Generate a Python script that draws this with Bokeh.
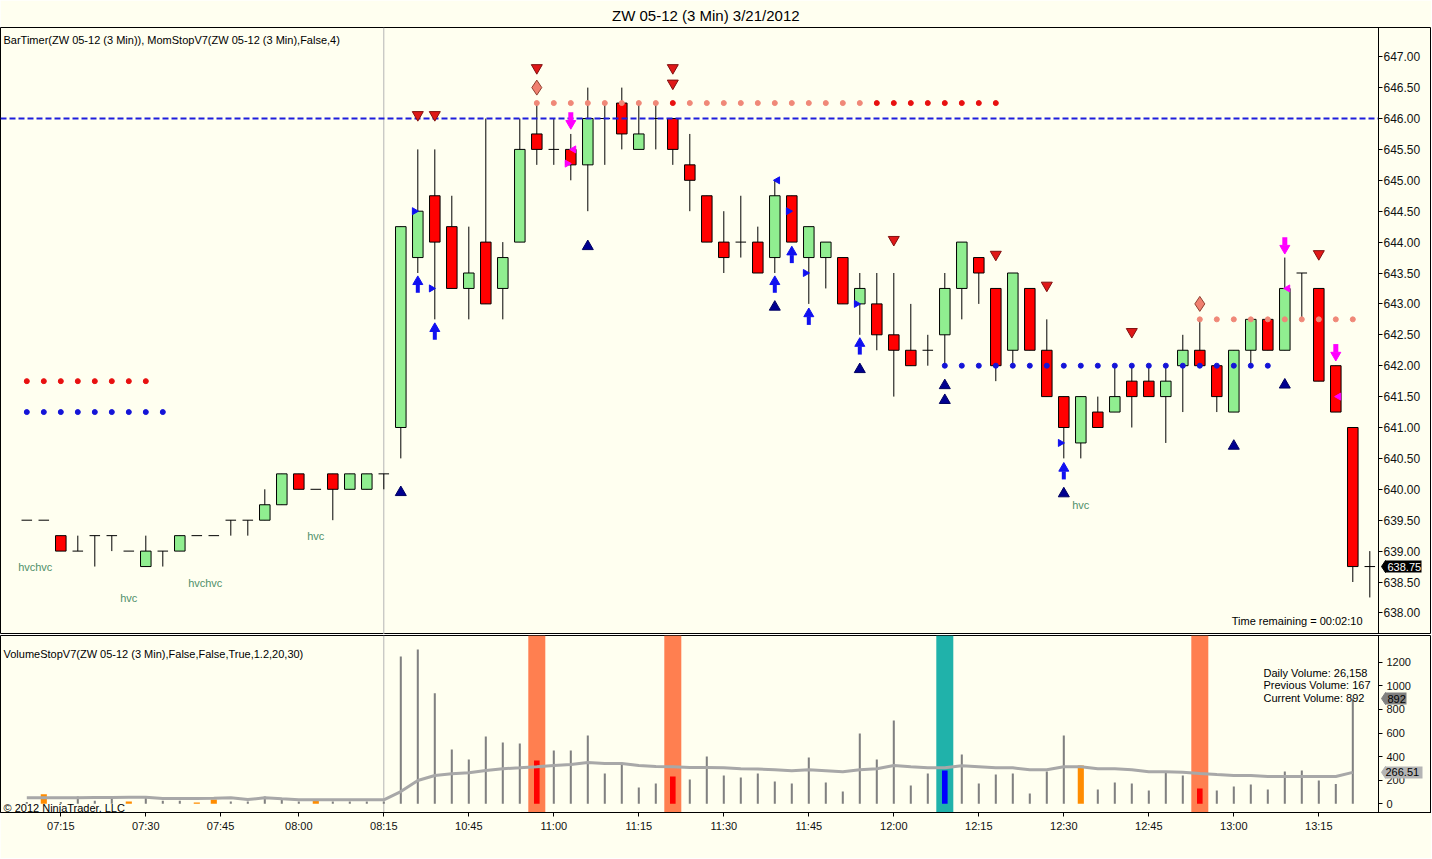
import numpy as np
from bokeh.plotting import figure
from bokeh.models import (Range1d, FixedTicker, PrintfTickFormatter, Label, BoxAnnotation,
                          Span, LinearAxis, BasicTickFormatter)
from bokeh.layouts import column
from bokeh.embed import file_html
from bokeh.resources import INLINE
from bokeh.core.properties import value

# ---------------- data ----------------
TITLE = "ZW 05-12 (3 Min)  3/21/2012"
PRICE_LEGEND = "BarTimer(ZW 05-12 (3 Min)), MomStopV7(ZW 05-12 (3 Min),False,4)"
VOL_LEGEND = "VolumeStopV7(ZW 05-12 (3 Min),False,False,True,1.2,20,30)"
COPYRIGHT = "\u00a9 2012 NinjaTrader, LLC"
TIME_REMAINING = "Time remaining = 00:02:10"
DAILY_VOLUME = 26158

opens = [639.5, 639.5, 639.25, 639.0, 639.25, 639.25, 639.0, 638.75, 639.0, 639.0,
         639.25, 639.25, 639.5, 639.5, 639.5, 639.75, 640.25, 640.0, 640.25, 640.0,
         640.0, 640.25, 641.0, 643.75, 644.75, 644.25, 643.25, 644.0, 643.25, 644.0,
         645.75, 645.5, 645.5, 645.25, 646.0, 646.25, 645.5, 646.0, 646.0, 645.25,
         644.75, 644.0, 644.0, 644.0, 643.75, 644.75, 643.75, 643.75, 643.75, 643.0,
         643.0, 642.5, 642.25, 642.25, 642.5, 643.25, 643.75, 643.25, 642.25, 643.25,
         642.25, 641.5, 640.75, 641.25, 641.25, 641.75, 641.75, 641.5, 642.0, 642.25,
         642.0, 641.25, 642.25, 642.75, 642.25, 643.5, 643.25, 642.0, 641.0, 638.75]
highs = [639.5, 639.5, 639.25, 639.25, 639.25, 639.25, 639.0, 639.25, 639.0, 639.25,
         639.25, 639.25, 639.5, 639.5, 640.0, 640.25, 640.25, 640.0, 640.25, 640.25,
         640.25, 640.25, 644.25, 645.5, 645.5, 644.75, 644.25, 646.0, 644.0, 646.0,
         646.25, 646.0, 645.75, 646.5, 646.25, 646.5, 646.25, 646.25, 646.0, 645.75,
         644.75, 644.5, 644.75, 644.25, 645.0, 644.75, 644.25, 644.0, 643.75, 643.5,
         643.5, 643.5, 643.0, 642.5, 643.5, 644.0, 643.75, 643.25, 643.5, 643.25,
         642.75, 641.5, 641.5, 641.5, 642.0, 642.0, 642.0, 642.0, 642.5, 642.75,
         642.0, 642.25, 642.75, 642.75, 643.75, 643.5, 643.25, 642.0, 641.0, 639.0]
lows = [639.5, 639.5, 639.0, 639.0, 638.75, 639.0, 639.0, 638.75, 638.75, 639.0,
        639.25, 639.25, 639.25, 639.25, 639.5, 639.75, 640.0, 640.0, 639.5, 640.0,
        640.0, 640.0, 640.5, 643.5, 642.75, 643.25, 642.75, 643.0, 642.75, 644.0,
        645.25, 645.25, 645.0, 644.5, 645.25, 645.5, 645.5, 645.5, 645.25, 644.5,
        644.0, 643.5, 643.75, 643.5, 643.5, 644.0, 643.0, 643.25, 643.0, 642.5,
        642.25, 641.5, 642.0, 642.0, 642.0, 642.75, 643.0, 641.75, 642.0, 642.25,
        641.5, 640.5, 640.5, 641.0, 641.25, 641.0, 641.5, 640.75, 641.25, 642.0,
        641.25, 641.25, 642.0, 642.25, 642.25, 642.75, 641.75, 641.25, 638.5, 638.25]
closes = [639.5, 639.5, 639.0, 639.0, 639.25, 639.25, 639.0, 639.0, 639.0, 639.25,
          639.25, 639.25, 639.5, 639.5, 639.75, 640.25, 640.0, 640.0, 640.0, 640.25,
          640.25, 640.25, 644.25, 644.5, 644.0, 643.25, 643.5, 643.0, 643.75, 645.5,
          645.5, 645.5, 645.25, 646.0, 646.0, 645.75, 645.75, 646.0, 645.5, 645.0,
          644.0, 643.75, 644.0, 643.5, 644.75, 644.0, 644.25, 644.0, 643.0, 643.25,
          642.5, 642.25, 642.0, 642.25, 643.25, 644.0, 643.5, 642.0, 643.5, 642.25,
          641.5, 641.0, 641.5, 641.0, 641.5, 641.5, 641.5, 641.75, 642.25, 642.0,
          641.5, 642.25, 642.75, 642.25, 643.25, 643.5, 641.75, 641.25, 638.75, 638.75]

volumes = [15, 80, 15, 62, 25, 62, 20, 62, 25, 25,
           10, 37, 20, 20, 62, 40, 20, 31, 20, 20,
           20, 20, 1248, 1308, 937, 460, 375, 570, 520, 511,
           367, 452, 452, 579, 257, 336, 138, 172, 231, 206,
           401, 240, 223, 257, 189, 172, 392, 181, 104, 596,
           375, 706, 155, 257, 282, 418, 172, 248, 257, 87,
           274, 579, 325, 121, 181, 172, 113, 274, 240, 130,
           113, 147, 164, 121, 274, 282, 197, 167, 892]
volume_avg = [51, 51, 51, 51, 53, 53, 56, 56, 45, 45,
              45, 47, 51, 36, 51, 42, 34, 34, 34, 34,
              34, 34, 104, 197, 240, 254, 263, 282, 297, 305,
              314, 325, 333, 350, 342, 342, 325, 316, 314, 308,
              308, 305, 297, 294, 288, 280, 288, 280, 271, 288,
              297, 325, 314, 305, 305, 322, 314, 305, 305, 288,
              288, 314, 314, 297, 297, 288, 271, 271, 268, 257,
              248, 240, 240, 231, 231, 231, 231, 231, 266.51]
vol_red_idx = [30, 38, 69]
vol_blue_idx = [54]
vol_orange_idx = [1, 6, 10, 11, 17, 62]
band_coral_idx = [30, 38, 69]
band_teal_idx = [54]

time_tick_pos = [2, 7, 11.4, 16, 21, 26, 31, 36, 41, 46, 51, 56, 61, 66, 71, 76]
time_tick_labels = ["07:15", "07:30", "07:45", "08:00", "08:15", "10:45", "11:00", "11:15",
                    "11:30", "11:45", "12:00", "12:15", "12:30", "12:45", "13:00", "13:15"]
price_ticks = [638.0, 638.5, 639.0, 639.5, 640.0, 640.5, 641.0, 641.5, 642.0, 642.5,
               643.0, 643.5, 644.0, 644.5, 645.0, 645.5, 646.0, 646.5, 647.0]
vol_ticks = [0, 200, 400, 600, 800, 1000, 1200]
session_break_idx = 21
resistance_level = 646.0

# MomStop dots
red_dot_idx = [0, 1, 2, 3, 4, 5, 6, 7]
red_dot_lvl = [641.75] * 8
blue_dot_idx = [0, 1, 2, 3, 4, 5, 6, 7, 8]
blue_dot_lvl = [641.25] * 9
hi_dot_idx = [30, 31, 32, 33, 34, 35, 36, 37, 38, 39, 40, 41, 42, 43, 44, 45, 46, 47, 48, 49,
              50, 51, 52, 53, 54, 55, 56, 57]
hi_dot_lvl = [646.25] * 28
hi_dot_red_idx = [38, 50, 51, 52, 53, 54, 55, 56, 57]
lo_dot_idx = [54, 55, 56, 57, 58, 59, 60, 61, 62, 63, 64, 65, 66, 67, 68, 69, 70, 71, 72, 73]
lo_dot_lvl = [642.0] * 20
hi2_dot_idx = [69, 70, 71, 72, 73, 74, 75, 76, 77, 78]
hi2_dot_lvl = [642.75] * 10

# signal markers (index, price)
sell_tri_idx = [23, 24, 30, 38, 38, 51, 57, 60, 65, 76]
sell_tri_px = [646.06, 646.06, 646.82, 646.82, 646.57, 644.04, 643.80, 643.30, 642.55, 643.81]
diamond_idx = [30, 69]
diamond_px = [646.5, 643.0]
buy_tri_idx = [22, 33, 44, 49, 54, 54, 61, 71, 74]
buy_tri_px = [639.95, 643.93, 642.95, 641.94, 641.68, 641.44, 639.93, 640.70, 641.69]
down_arrow_idx = [32, 74, 77]
down_arrow_px = [645.98, 643.96, 642.23]
up_arrow_idx = [23, 24, 44, 45, 46, 49, 61]
up_arrow_px = [643.30, 642.54, 643.30, 643.78, 642.78, 642.30, 640.28]
blue_right_idx = [23, 24, 45, 46, 49, 61]
blue_right_px = [644.5, 643.25, 644.5, 643.5, 643.0, 640.75]
blue_left_idx = [44]
blue_left_px = [645.0]
mag_right_idx = [32]
mag_right_px = [645.27]
mag_left_idx = [32, 74, 77]
mag_left_px = [645.5, 643.25, 641.5]
hvc_idx = [0, 1, 6, 10, 11, 17, 62]

# ---------------- styling ----------------
BG = "#FFFFF0"
FONT = "Liberation Sans"
GREEN = "#90EE90"
RED = "#FF0000"
FRAME_W = 1431
BAR_PX = 17.0
x_range = Range1d(-1.547, 82.629)
AXIS_X = 79.512          # bar-index position of the price/volume scale line
BOX_GAP = 7              # px between scale line and value box


def style_axis(ax, size="11px", standoff=3):
    ax.major_label_text_font = FONT
    ax.major_label_text_font_size = size
    ax.major_label_text_color = "#111111"
    ax.axis_line_color = "black"
    ax.major_tick_line_color = "black"
    ax.major_tick_out = 4
    ax.major_tick_in = 0
    ax.minor_tick_line_color = None
    ax.major_label_standoff = standoff


def scale_axis(fig, ticks, fmt, size, standoff):
    ax = LinearAxis(fixed_location=AXIS_X, ticker=FixedTicker(ticks=ticks), formatter=fmt)
    style_axis(ax, size=size, standoff=standoff)
    fig.add_layout(ax, "right")


def value_box(fig, val, fmt, fill, text_color, length, standoff):
    # pointer notch on the left of the box
    fig.scatter([AXIS_X + BOX_GAP / BAR_PX], [val], marker="diamond", size=12,
                fill_color=fill, line_color=fill)
    ax = LinearAxis(fixed_location=AXIS_X, ticker=FixedTicker(ticks=[val]), formatter=fmt)
    ax.axis_line_color = None
    ax.minor_tick_line_color = None
    ax.major_tick_in = -BOX_GAP
    ax.major_tick_out = length
    ax.major_tick_line_width = 12
    ax.major_tick_line_color = fill
    ax.major_label_standoff = standoff
    ax.major_label_text_font = FONT
    ax.major_label_text_font_size = "11px"
    ax.major_label_text_color = text_color
    fig.add_layout(ax, "right")


# ---------------- price panel ----------------
p = figure(frame_width=FRAME_W, frame_height=607, x_range=x_range,
           y_range=Range1d(637.6505, 647.4725), output_backend="svg",
           toolbar_location=None, y_axis_location=None, x_axis_location=None,
           min_border_left=0, min_border_right=0, min_border_top=27, min_border_bottom=0,
           background_fill_color=BG, border_fill_color=BG, outline_line_color="black",
           title=TITLE)
p.title.align = "left"
p.title.offset = 611.5
p.title.standoff = 8
p.title.text_font = FONT
p.title.text_font_size = "15px"
p.title.text_font_style = "normal"
p.title.text_color = "black"
p.grid.visible = False
scale_axis(p, price_ticks, PrintfTickFormatter(format="%.2f"), "12px", 1)

p.add_layout(Span(location=session_break_idx, dimension="height", line_color="#B4B4B4",
                  line_width=1, level="underlay"))

idx = np.arange(len(opens))
o = np.array(opens)
h = np.array(highs)
lo = np.array(lows)
c = np.array(closes)
up = c > o
dn = c < o
flat = c == o
BW = 0.62

p.segment(x0=idx, y0=h, x1=idx, y1=lo, line_color="black", line_width=1)
p.vbar(x=idx[up], bottom=o[up], top=c[up], width=BW, fill_color=GREEN, line_color="black")
p.vbar(x=idx[dn], bottom=c[dn], top=o[dn], width=BW, fill_color=RED, line_color="black")
p.segment(x0=idx[flat] - BW / 2, y0=o[flat], x1=idx[flat] + BW / 2, y1=o[flat],
          line_color="black", line_width=1)

p.segment(x0=[x_range.start], y0=[resistance_level], x1=[AXIS_X], y1=[resistance_level],
          line_color="#1E1EDC", line_width=2, line_dash="6 3")

# dots
p.scatter(red_dot_idx, red_dot_lvl, size=5, color="#E81010")
p.scatter(blue_dot_idx, blue_dot_lvl, size=5, color="#1414D8")
hi_cols = ["#E81010" if i in hi_dot_red_idx else "#F08878" for i in hi_dot_idx]
p.scatter(hi_dot_idx, hi_dot_lvl, size=5, color=hi_cols)
p.scatter(lo_dot_idx, lo_dot_lvl, size=5, color="#1414D8")
p.scatter(hi2_dot_idx, hi2_dot_lvl, size=5, color="#F08878")

# markers
p.scatter(sell_tri_idx, sell_tri_px, marker="inverted_triangle", size=11,
          fill_color="#E01818", line_color="#801010")
p.scatter(diamond_idx, diamond_px, marker="diamond", size=15,
          fill_color="#F08070", line_color="#904030")
p.scatter(buy_tri_idx, buy_tri_px, marker="triangle", size=11,
          fill_color="#000090", line_color="#000060")

da_x = np.array(down_arrow_idx)
da_y = np.array(down_arrow_px)
p.segment(x0=da_x, y0=da_y + 0.12, x1=da_x, y1=da_y - 0.01, line_color="#FF00FF", line_width=5)
p.scatter(da_x, da_y - 0.06, marker="inverted_triangle", size=10,
          fill_color="#FF00FF", line_color="#FF00FF")
ua_x = np.array(up_arrow_idx)
ua_y = np.array(up_arrow_px)
p.segment(x0=ua_x, y0=ua_y - 0.12, x1=ua_x, y1=ua_y + 0.01, line_color="#1010F0", line_width=4)
p.scatter(ua_x, ua_y + 0.06, marker="triangle", size=10,
          fill_color="#1010F0", line_color="#1010F0")

p.scatter(np.array(blue_right_idx) - 0.2, blue_right_px, marker="triangle", size=7,
          angle=-np.pi / 2, fill_color="#1010F0", line_color="#1010F0")
p.scatter(np.array(blue_left_idx) + 0.16, blue_left_px, marker="triangle", size=7,
          angle=np.pi / 2, fill_color="#1010F0", line_color="#1010F0")
p.scatter(np.array(mag_right_idx) - 0.21, mag_right_px, marker="triangle", size=7,
          angle=-np.pi / 2, fill_color="#FF00FF", line_color="#FF00FF")
p.scatter(np.array(mag_left_idx) + 0.17, mag_left_px, marker="triangle", size=7,
          angle=np.pi / 2, fill_color="#FF00FF", line_color="#FF00FF")

p.text(x=hvc_idx, y=[lows[i] for i in hvc_idx], text=["hvc"] * len(hvc_idx),
       text_font=value(FONT), text_font_size="11px", text_color="#4F8F6A",
       text_align="center", text_baseline="middle", y_offset=47)

# texts (screen coords relative to frame bottom-left)
p.add_layout(Label(x=3, y=594.7, x_units="screen", y_units="screen", text=PRICE_LEGEND,
                   text_font=FONT, text_font_size="11px", text_align="left",
                   text_baseline="middle", text_color="black"))
p.add_layout(Label(x=1362, y=14, x_units="screen", y_units="screen", text=TIME_REMAINING,
                   text_font=FONT, text_font_size="11px", text_align="right",
                   text_baseline="middle", text_color="black"))

# last price marker on the price scale
value_box(p, closes[-1], PrintfTickFormatter(format="%.2f"), "black", "white", 43, -34)

# ---------------- volume panel ----------------
v = figure(frame_width=FRAME_W, frame_height=177, x_range=x_range,
           y_range=Range1d(-73.7, 1426.3), output_backend="svg",
           toolbar_location=None, y_axis_location=None, x_axis_location="below",
           min_border_left=0, min_border_right=0, min_border_top=1, min_border_bottom=46,
           background_fill_color=BG, border_fill_color=BG, outline_line_color="black")
v.grid.visible = False
scale_axis(v, vol_ticks, BasicTickFormatter(), "11px", 4)
style_axis(v.xaxis[0], size="11px", standoff=3)
v.xaxis[0].ticker = FixedTicker(ticks=time_tick_pos)
v.xaxis[0].major_label_overrides = {pos: lab for pos, lab in zip(time_tick_pos, time_tick_labels)}

for i in band_coral_idx:
    v.add_layout(BoxAnnotation(left=i - 0.5, right=i + 0.5, fill_color="#FF7F50",
                               fill_alpha=1.0, line_color=None, level="underlay"))
for i in band_teal_idx:
    v.add_layout(BoxAnnotation(left=i - 0.5, right=i + 0.5, fill_color="#20B2AA",
                               fill_alpha=1.0, line_color=None, level="underlay"))
v.add_layout(Span(location=session_break_idx, dimension="height", line_color="#B4B4B4",
                  line_width=1, level="underlay"))

vidx = np.arange(len(volumes))
vol = np.array(volumes, dtype=float)
special = set(vol_red_idx) | set(vol_blue_idx) | set(vol_orange_idx)
plain = np.array([i not in special for i in vidx])
v.vbar(x=vidx[plain], bottom=0, top=vol[plain], width=0.12, fill_color="#808080",
       line_color=None)
v.vbar(x=vol_red_idx, bottom=0, top=vol[vol_red_idx], width=0.33, fill_color="#FF0000",
       line_color=None)
v.vbar(x=vol_blue_idx, bottom=0, top=vol[vol_blue_idx], width=0.33, fill_color="#0000FF",
       line_color=None)
v.vbar(x=vol_orange_idx, bottom=0, top=vol[vol_orange_idx], width=0.36, fill_color="#FF8C00",
       line_color=None)
v.line(vidx, volume_avg, line_color="#A8A8A8", line_width=3)

v.add_layout(Label(x=3, y=159, x_units="screen", y_units="screen", text=VOL_LEGEND,
                   text_font=FONT, text_font_size="11px", text_align="left",
                   text_baseline="middle", text_color="black"))
v.add_layout(Label(x=3, y=5, x_units="screen", y_units="screen", text=COPYRIGHT,
                   text_font=FONT, text_font_size="11px", text_align="left",
                   text_baseline="middle", text_color="black"))
info = ["Daily Volume: {:,}".format(DAILY_VOLUME),
        "Previous Volume: {}".format(volumes[-2]),
        "Current Volume: {}".format(volumes[-1])]
for k, t in enumerate(info):
    v.add_layout(Label(x=1263, y=139.3 - 12.2 * k, x_units="screen", y_units="screen", text=t,
                       text_font=FONT, text_font_size="11px", text_align="left",
                       text_baseline="middle", text_color="black"))

# current volume and average markers on the volume scale
value_box(v, volumes[-1], BasicTickFormatter(), "#808080", "black", 28, -19)
value_box(v, volume_avg[-1], PrintfTickFormatter(format="%.2f"), "#B4B4B4", "black", 44, -37)

layout = column(p, v, spacing=0)
open("out.html", "w").write(file_html(layout, INLINE))
